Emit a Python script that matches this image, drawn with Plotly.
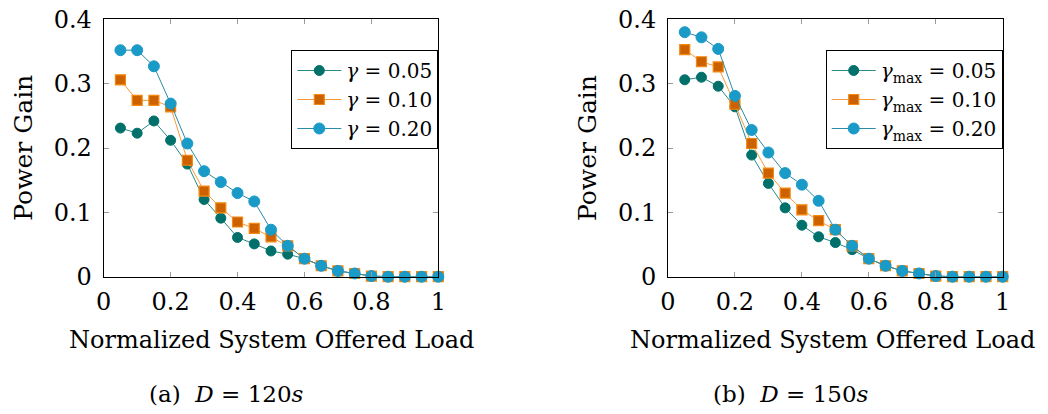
import plotly.graph_objects as go

load = [0.05, 0.10, 0.15, 0.20, 0.25, 0.30, 0.35, 0.40, 0.45, 0.50,
        0.55, 0.60, 0.65, 0.70, 0.75, 0.80, 0.85, 0.90, 0.95, 1.00]

# (a) D = 120s
a_g005 = [0.231, 0.223, 0.242, 0.212, 0.175, 0.120, 0.091, 0.061, 0.051, 0.040,
          0.035, 0.028, 0.017, 0.009, 0.005, 0.001, 0.0, 0.0, 0.0, 0.0]
a_g010 = [0.306, 0.274, 0.274, 0.264, 0.181, 0.133, 0.107, 0.085, 0.075, 0.062,
          0.048, 0.028, 0.017, 0.009, 0.005, 0.001, 0.0, 0.0, 0.0, 0.0]
a_g020 = [0.352, 0.352, 0.327, 0.269, 0.207, 0.164, 0.147, 0.130, 0.117, 0.073,
          0.048, 0.028, 0.017, 0.009, 0.005, 0.001, 0.0, 0.0, 0.0, 0.0]

# (b) D = 150s
b_g005 = [0.306, 0.310, 0.296, 0.264, 0.189, 0.145, 0.107, 0.080, 0.062, 0.053,
          0.042, 0.028, 0.017, 0.009, 0.005, 0.001, 0.0, 0.0, 0.0, 0.0]
b_g010 = [0.353, 0.334, 0.326, 0.268, 0.207, 0.161, 0.130, 0.104, 0.087, 0.073,
          0.048, 0.028, 0.017, 0.009, 0.005, 0.001, 0.0, 0.0, 0.0, 0.0]
b_g020 = [0.380, 0.372, 0.354, 0.281, 0.228, 0.193, 0.161, 0.143, 0.118, 0.073,
          0.048, 0.028, 0.017, 0.009, 0.005, 0.001, 0.0, 0.0, 0.0, 0.0]

labels_a = ["<i>γ</i> = 0.05", "<i>γ</i> = 0.10", "<i>γ</i> = 0.20"]
labels_b = ["<i>γ</i><sub>max</sub> = 0.05", "<i>γ</i><sub>max</sub> = 0.10",
            "<i>γ</i><sub>max</sub> = 0.20"]

x_ticks = [0, 0.2, 0.4, 0.6, 0.8, 1]
x_tick_text = ["0", "0.2", "0.4", "0.6", "0.8", "1"]
y_ticks = [0, 0.1, 0.2, 0.3, 0.4]
y_tick_text = ["0", "0.1", "0.2", "0.3", "0.4"]

x_title = "Normalized System Offered Load"
y_title = "Power Gain"
captions = ["(a)  <i>D</i> = 120<i>s</i>", "(b)  <i>D</i> = 150<i>s</i>"]

FONT = "DejaVu Serif"
FS = 24
styles = [
    dict(line=dict(color="#2a8a86", width=1),
         marker=dict(symbol="circle", size=10, color="#00706b",
                     line=dict(color="#00706b", width=1))),
    dict(line=dict(color="#f59a3c", width=1),
         marker=dict(symbol="square", size=10, color="#cc6100",
                     line=dict(color="#f5890f", width=1.2))),
    dict(line=dict(color="#2a8aa8", width=1),
         marker=dict(symbol="circle", size=11, color="#1a9bc7",
                     line=dict(color="#1a9bc7", width=1))),
]

fig = go.Figure()
for i, (ys, lab) in enumerate(zip([a_g005, a_g010, a_g020], labels_a)):
    fig.add_trace(go.Scatter(x=load, y=ys, mode="lines+markers", name=lab,
                             xaxis="x", yaxis="y", legend="legend",
                             cliponaxis=False, **styles[i]))
for i, (ys, lab) in enumerate(zip([b_g005, b_g010, b_g020], labels_b)):
    fig.add_trace(go.Scatter(x=load, y=ys, mode="lines+markers", name=lab,
                             xaxis="x2", yaxis="y2", legend="legend2",
                             cliponaxis=False, **styles[i]))

# page body has an 8px margin: figure is offset by (8, 8) in the window;
# keep the page no taller than the window so no scrollbar appears
OFF = 8
W, H = 1048 - OFF, 414 - 2 * OFF

def px(x):
    return (x - OFF) / W

def py(y):
    return (H - (y - OFF)) / H

TOP, BOT = 19.3, 276.7
ydom = [py(BOT), py(TOP)]
panels = [(103.7, 438.3), (668.0, 1002.7)]

def xaxis(l, r, anchor):
    return dict(domain=[px(l), px(r)], anchor=anchor, range=[0, 1],
                tickvals=x_ticks, ticktext=x_tick_text, ticks="inside",
                ticklen=5, tickcolor="#9a9a9a", showline=True,
                linecolor="black", linewidth=1, mirror="ticks",
                showgrid=False, zeroline=False, automargin=False,
                ticklabelstandoff=3, ticklabeloverflow="allow",
                tickfont=dict(family=FONT, size=FS, color="black"))

def yaxis(anchor):
    return dict(domain=ydom, anchor=anchor, range=[0, 0.4], tickvals=y_ticks,
                ticktext=y_tick_text, ticks="inside", ticklen=5,
                tickcolor="#9a9a9a", showline=True, linecolor="black",
                linewidth=1, mirror="ticks", showgrid=False, zeroline=False,
                automargin=False, ticklabelstandoff=6,
                ticklabeloverflow="allow",
                tickfont=dict(family=FONT, size=FS, color="black"))

legend_common = dict(bgcolor="white", bordercolor="black", borderwidth=1,
                     font=dict(family=FONT, size=20, color="black"),
                     xanchor="right", yanchor="top", tracegroupgap=0,
                     itemwidth=44)

annotations = []
cap_centers = [226, 791]
title_centers = [(panels[0][0] + panels[0][1]) / 2, 832]
for (l, r), cap, cc, tc in zip(panels, captions, cap_centers, title_centers):
    annotations.append(dict(text=x_title, x=px(tc), y=py(340),
                            xref="paper", yref="paper", showarrow=False,
                            xanchor="center", yanchor="middle",
                            font=dict(family=FONT, size=24, color="black")))
    annotations.append(dict(text=y_title, x=px(l - 81), y=py(148),
                            xref="paper", yref="paper", showarrow=False,
                            textangle=-90, xanchor="center", yanchor="middle",
                            font=dict(family=FONT, size=25, color="black")))
    annotations.append(dict(text=cap, x=px(cc), y=py(394),
                            xref="paper", yref="paper", showarrow=False,
                            xanchor="center", yanchor="middle",
                            font=dict(family=FONT, size=23, color="black")))

fig.update_layout(
    width=W, height=H,
    margin=dict(l=0, r=0, t=0, b=0),
    paper_bgcolor="white", plot_bgcolor="white",
    xaxis=xaxis(*panels[0], "y"),
    yaxis=yaxis("x"),
    xaxis2=xaxis(*panels[1], "y2"),
    yaxis2=yaxis("x2"),
    legend=dict(x=px(panels[0][1]), y=py(50), **legend_common),
    legend2=dict(x=px(panels[1][1]), y=py(50), **legend_common),
    annotations=annotations,
)

fig.write_html("out.html")
